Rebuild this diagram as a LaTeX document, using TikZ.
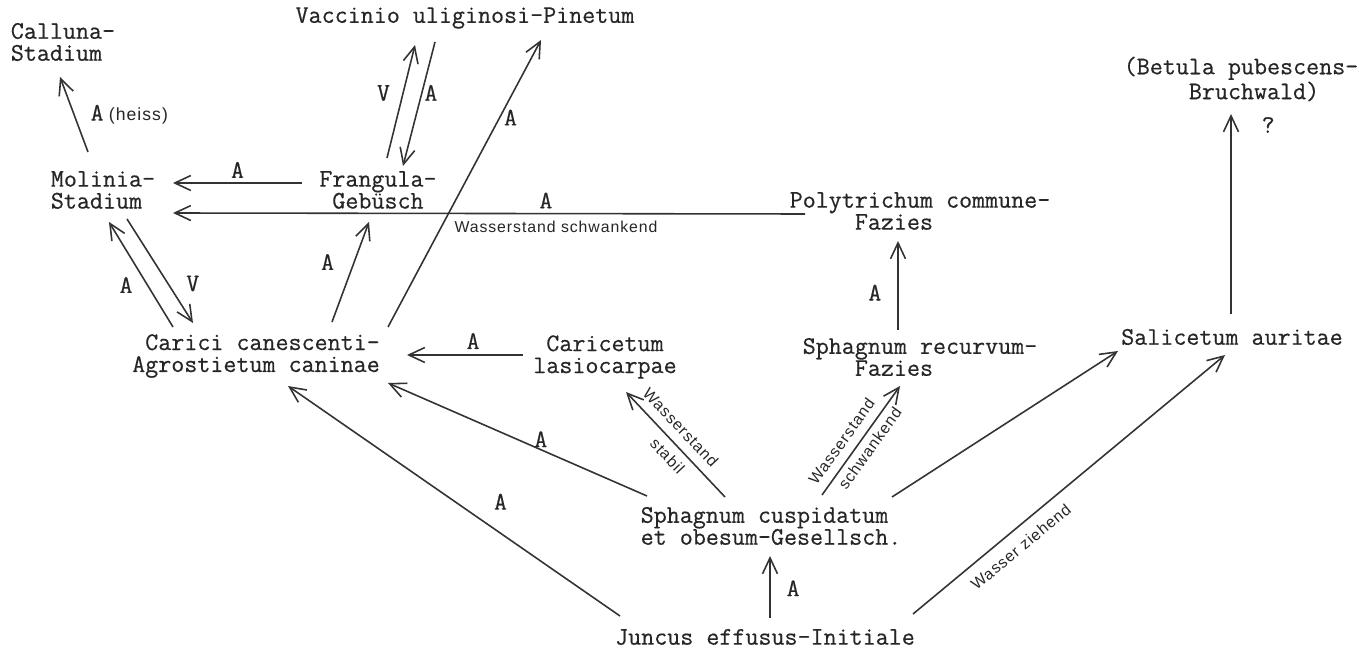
\documentclass[tikz,border=0pt]{standalone}
\usepackage{fontspec}
\setmonofont{Latin Modern Mono}[FakeBold=0.5]
\setsansfont{Liberation Sans}[LetterSpace=6]
\usetikzlibrary{positioning, arrows.meta, calc}

\newcommand{\indentby}[1]{\hspace*{#1\fontcharwd\font`\x}}

\begin{document}
\begin{tikzpicture}[
        x=0.02cm, y=-0.02cm,
        font=\ttfamily\fontsize{14.4}{12.5}\selectfont,
        every node/.style={text=black!85},
        unit/.style={inner sep=0pt, align=#1},
        unit/.default=center,
        arr/.style={draw=black!80, line width=0.9pt, -{Straight Barb[length=3.2mm, width=3mm]}},
        lbl/.style={inner sep=1pt},
        note/.style={font=\sffamily\fontsize{9}{10}\selectfont, inner sep=1pt},
    ]
    \useasboundingbox (0,0) rectangle (1362,648);

    % ---- Gesellschaften ----
    \node[unit=left] (calluna) at (63,42) {Calluna-\\Stadium};
    \node[unit] (vaccinio) at (465,18) {Vaccinio uliginosi-Pinetum};
    \node[unit=left] (betula) at (1241,79) {(Betula pubescens-\\\indentby{5}Bruchwald)};
    \node[unit=left] (molinia) at (103,190) {Molinia-\\Stadium};
    \node[unit] (frangula) at (378,190) {Frangula-\\Gebüsch};
    \node[unit=left] (polytrichum) at (920,211) {Polytrichum commune-\\\indentby{5}Fazies};
    \node[unit=right] (carici) at (256,356) {Carici canescenti-\\Agrostietum caninae};
    \node[unit] (caricetum) at (605,357) {Caricetum\\lasiocarpae};
    \node[unit=left] (recurvum) at (920,357) {Sphagnum recurvum-\\\indentby{4}Fazies};
    \node[unit] (salicetum) at (1232,337) {Salicetum auritae};
    \node[unit=left] (cuspidatum) at (771,526) {Sphagnum cuspidatum\\et obesum-Gesellsch.};
    \node[unit] (juncus) at (765,637) {Juncus effusus-Initiale};

    % ---- Obere Reihe ----
    \draw[arr] ($(molinia)+(-15,-38)$) -- ($(calluna)+(-3,35)$)
        node[lbl, midway, right=8pt] {A\kern3pt{\sffamily\fontsize{10}{11}\selectfont(heiss)}};
    \draw[arr] ($(frangula)+(-76,-7)$) -- ($(molinia)+(70,-7)$)
        node[lbl, midway, above=1.5pt] {A};
    \draw[arr] ($(polytrichum)+(-115,3)$) -- ($(molinia)+(70,23)$)
        node[lbl, pos=0.41, above=1.5pt] {A}
        node[note, pos=0.394, below=3pt] {Wasserstand schwankend};
    \draw[arr] ($(frangula)+(9,-32)$) -- ($(vaccinio)+(-50,27)$)
        node[lbl, pos=0.575, left=6pt] {V};
    \draw[arr] ($(vaccinio)+(-30,24)$) -- ($(frangula)+(25,-24)$)
        node[lbl, pos=0.41, right=0pt] {A};

    % ---- Von Carici aus ----
    \draw[arr] ($(carici)+(132,-29)$) -- ($(vaccinio)+(76,22)$)
        node[lbl, pos=0.73, right=1pt] {A};
    \draw[arr] ($(carici)+(76,-34)$) -- ($(frangula)+(-9,32)$)
        node[lbl, pos=0.6, left=10pt] {A};
    \draw[arr] ($(carici)+(-83,-29)$) -- ($(molinia)+(6,32)$)
        node[lbl, pos=0.4, left=7pt] {A};
    \draw[arr] ($(molinia)+(24,29)$) -- ($(carici)+(-63,-33)$)
        node[lbl, pos=0.62, right=9pt] {V};

    % ---- Mittlere Reihe ----
    \draw[arr] ($(caricetum)+(-82,-2)$) -- ($(carici)+(151,-1)$)
        node[lbl, pos=0.43, above=2pt] {A};
    \draw[arr] ($(cuspidatum)+(-124,-30)$) -- ($(carici)+(132,27)$)
        node[lbl, pos=0.41, above=0pt] {A};
    \draw[arr] ($(juncus)+(-145,-21)$) -- ($(carici)+(32,30)$)
        node[lbl, pos=0.36, above=12pt] {A};
    \draw[arr] ($(cuspidatum)+(-46,-29)$) -- ($(caricetum)+(21,35)$)
        node[note, pos=0.56, sloped, above=4pt] {Wasserstand}
        node[note, pos=0.48, sloped, below=3pt] {stabil};
    \draw[arr] ($(cuspidatum)+(51,-31)$) -- ($(recurvum)+(-20,29)$)
        node[note, pos=0.41, sloped, above=4pt] {Wasserstand}
        node[note, pos=0.49, sloped, below=2pt] {schwankend};
    \draw[arr] ($(recurvum)+(-22,-27)$) -- ($(polytrichum)+(-22,30)$)
        node[lbl, pos=0.42, left=8pt] {A};

    % ---- Rechte Seite ----
    \draw[arr] ($(cuspidatum)+(121,-29)$) -- ($(salicetum)+(-114,14)$);
    \draw[arr] ($(juncus)+(148,-23)$) -- ($(salicetum)+(-7,18)$)
        node[note, pos=0.31, sloped, below=5pt] {Wasser ziehend};
    \draw[arr] ($(salicetum)+(-1,-23)$) -- ($(betula)+(-10,35)$)
        node[lbl, pos=0.945, right=16pt] {?};
    \draw[arr] ($(juncus)+(5,-19)$) -- ($(cuspidatum)+(-1,30)$)
        node[lbl, pos=0.48, right=8pt] {A};
\end{tikzpicture}
\end{document}
